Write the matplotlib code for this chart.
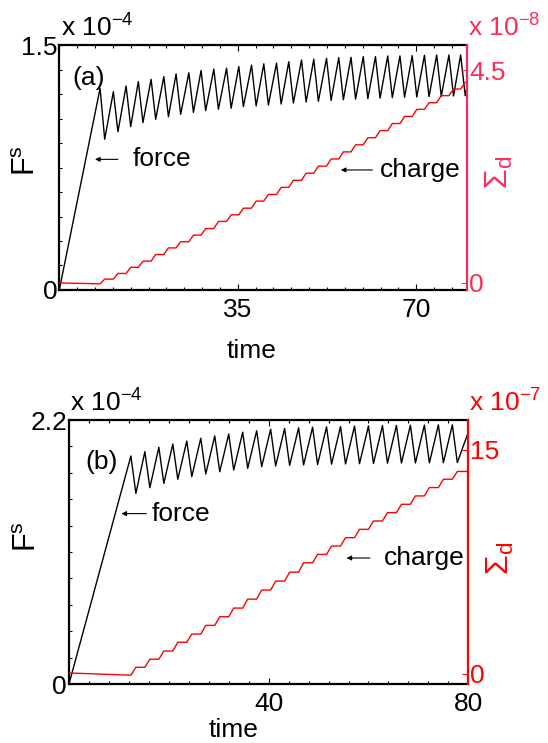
import numpy as np
import matplotlib.pyplot as plt
from matplotlib.ticker import MultipleLocator

plt.rcParams['font.family'] = ['Liberation Sans', 'DejaVu Sans']
plt.rcParams['mathtext.fontset'] = 'custom'
plt.rcParams['mathtext.rm'] = 'Liberation Sans'
plt.rcParams['mathtext.it'] = 'Liberation Sans:italic'
plt.rcParams['mathtext.sf'] = 'Liberation Sans'

# ---- panel (a): force in 1e-4, charge in 1e-8 ----
a_peak_t = [8.0, 10.6, 13.1, 15.5, 18.0, 20.5, 22.9, 25.4, 27.8, 30.3,
            32.8, 35.2, 37.7, 40.1, 42.6, 45.0, 47.5, 49.9, 52.4, 54.8,
            57.2, 59.6, 62.0, 64.4, 66.8, 69.2, 71.6, 74.0, 76.4, 78.7]
a_peak_f = [1.235, 1.214, 1.249, 1.276, 1.290, 1.306, 1.323, 1.330, 1.344, 1.352,
            1.358, 1.368, 1.377, 1.385, 1.389, 1.398, 1.408, 1.413, 1.419, 1.423,
            1.425, 1.429, 1.429, 1.433, 1.433, 1.435, 1.437, 1.439, 1.439, 1.439]
a_trough_t = [8.9, 11.5, 14.0, 16.4, 18.9, 21.4, 23.8, 26.3, 28.7, 31.2,
              33.7, 36.1, 38.6, 41.0, 43.5, 45.9, 48.4, 50.8, 53.3, 55.7,
              58.1, 60.5, 62.9, 65.3, 67.7, 70.1, 72.5, 74.9, 77.3, 79.6]
a_trough_f = [0.923, 0.969, 1.000, 1.025, 1.045, 1.061, 1.076, 1.088, 1.098, 1.107,
              1.113, 1.123, 1.127, 1.133, 1.139, 1.145, 1.151, 1.156, 1.161, 1.165,
              1.169, 1.172, 1.175, 1.178, 1.180, 1.182, 1.184, 1.186, 1.188, 1.190]
a_force_end = (80.0, 1.25)
a_charge_start = [0.0, -0.02]
a_charge_lvl = [0.08, 0.20, 0.33, 0.46, 0.60, 0.74, 0.87, 1.01, 1.15, 1.30,
                1.44, 1.58, 1.73, 1.87, 2.02, 2.17, 2.32, 2.47, 2.62, 2.77,
                2.92, 3.07, 3.22, 3.37, 3.52, 3.67, 3.81, 3.96, 4.10, 4.24]

# ---- panel (b): force in 1e-4, charge in 1e-7 ----
b_peak_t = [12.4, 15.2, 18.0, 20.8, 23.6, 26.4, 29.2, 32.0, 34.8, 37.6,
            40.4, 43.2, 46.0, 48.8, 51.6, 54.4, 57.2, 60.0, 62.8, 65.6,
            68.4, 71.2, 74.0, 76.8]
b_peak_f = [1.900, 1.936, 1.973, 2.000, 2.025, 2.048, 2.067, 2.083, 2.098, 2.111,
            2.123, 2.130, 2.135, 2.140, 2.143, 2.146, 2.149, 2.151, 2.153, 2.155,
            2.157, 2.158, 2.160, 2.160]
b_trough_t = [13.4, 16.2, 19.0, 21.8, 24.6, 27.4, 30.2, 33.0, 35.8, 38.6,
              41.4, 44.2, 47.0, 49.8, 52.6, 55.4, 58.2, 61.0, 63.8, 66.6,
              69.4, 72.2, 75.0, 77.8]
b_trough_f = [1.589, 1.636, 1.672, 1.706, 1.728, 1.750, 1.769, 1.783, 1.798, 1.811,
              1.817, 1.822, 1.826, 1.829, 1.832, 1.834, 1.836, 1.838, 1.840, 1.841,
              1.842, 1.843, 1.844, 1.845]
b_force_end = (80.0, 2.10)
b_charge_start = [0.04, -0.11]
b_charge_lvl = [0.42, 0.96, 1.51, 2.10, 2.65, 3.23, 3.81, 4.39, 4.99, 5.60,
                6.20, 6.80, 7.43, 7.99, 8.55, 9.11, 9.67, 10.23, 10.79, 11.35,
                11.91, 12.47, 13.03, 13.55]


def force_path(pt, pf, tt, tf, end):
    t = [0.0]
    f = [0.0]
    for a, b, c, d in zip(pt, pf, tt, tf):
        t += [a, c]
        f += [b, d]
    t.append(end[0])
    f.append(end[1])
    return t, f


def charge_path(pt, tt, start, lvl):
    t = [0.0, pt[0]]
    q = list(start)
    prev = start[1]
    for a, c, l in zip(pt, tt, lvl):
        t += [a, c]
        q += [prev, l]
        prev = l
    t.append(80.0)
    q.append(lvl[-1])
    return t, q


def panel(fig, rect, force, charge, fmax, fminor, xmaj, xminor,
          qlim, qtick, qexp, rcol, spcol, tag, notes, labpos):
    ax = fig.add_axes(rect)
    ax.plot(*force, color='k', lw=1.0)
    ax.set_xlim(0, 80)
    ax.set_ylim(0, fmax)
    ax.set_xticks(xmaj)
    ax.set_xticklabels([str(v) for v in xmaj])
    ax.xaxis.set_minor_locator(MultipleLocator(xminor))
    ax.set_yticks([0, fmax])
    ax.set_yticklabels(['0', str(fmax)])
    ax.yaxis.set_minor_locator(MultipleLocator(fminor))
    ax.tick_params(which='both', direction='in', top=True, right=True,
                   labelsize=19, width=0.8)
    ax.tick_params(which='major', length=4.5)
    ax.tick_params(which='minor', length=2.5)
    ax.tick_params(axis='y', pad=1.5)
    ax.tick_params(axis='x', pad=6)
    for s in ax.spines.values():
        s.set_linewidth(1.6)
    ax.spines['right'].set_visible(False)

    ax2 = ax.twinx()
    ax2.plot(*charge, color='#ff0000', lw=1.0)
    ax2.set_xlim(0, 80)
    ax2.set_ylim(*qlim)
    ax2.set_yticks([0, qtick])
    ax2.set_yticklabels(['0', str(qtick)])
    ax2.tick_params(axis='y', direction='in', colors=rcol, labelsize=19,
                    length=4.5, width=0.8, pad=1.5)
    for s in ax2.spines.values():
        s.set_visible(False)
    ax2.spines['right'].set_visible(True)
    ax2.spines['right'].set_color(spcol)
    ax2.spines['right'].set_linewidth(1.6)

    ax.set_xlabel('time', fontsize=19)
    ax.xaxis.set_label_coords(*labpos[0])
    ax.set_ylabel(r'$\mathrm{F^s}$', fontsize=22)
    ax.yaxis.set_label_coords(*labpos[1])
    ax2.set_ylabel(r'$\mathrm{\Sigma_d}$', fontsize=23, color=rcol, rotation=90)
    ax2.yaxis.set_label_coords(*labpos[2])

    ax.text(0.003, 1.012, r'x 10$^{\mathrm{-4}}$', transform=ax.transAxes,
            fontsize=19, ha='left', va='bottom')
    ax.text(1.002, 1.012, r'x 10$^{\mathrm{' + qexp + '}}$', transform=ax.transAxes,
            fontsize=19, ha='left', va='bottom', color=rcol)

    ax.text(tag[1], tag[2], tag[0], fontsize=19, ha='center', va='center')
    for word, head, tail, tx, y in notes:
        ax.annotate('', xy=(head, y), xytext=(tail, y),
                    arrowprops=dict(arrowstyle='-|>', lw=0.8, color='k',
                                    mutation_scale=7, shrinkA=0, shrinkB=0))
        ax.text(tx, y, word, fontsize=19, ha='left', va='center')
    return ax, ax2


def main():
    fig = plt.figure(figsize=(5.48, 7.43), dpi=100)

    fa = force_path(a_peak_t, a_peak_f, a_trough_t, a_trough_f, a_force_end)
    qa = charge_path(a_peak_t, a_trough_t, a_charge_start, a_charge_lvl)
    panel(fig, [0.1082, 0.6097, 0.7445, 0.3297], fa, qa, 1.5, 0.15, [35, 70], 3.5,
          (-0.15, 5.03), 4.5, '-8', '#ff2d55', '#e63060',
          ('(a)', 5.7, 1.30),
          [('force', 7.0, 11.5, 14.3, 0.80), ('charge', 55.2, 61.4, 62.8, 0.735)],
          [(0.472, -0.20), (-0.042, 0.53), (1.04, 0.478)])

    fb = force_path(b_peak_t, b_peak_f, b_trough_t, b_trough_f, b_force_end)
    qb = charge_path(b_peak_t, b_trough_t, b_charge_start, b_charge_lvl)
    panel(fig, [0.1259, 0.0794, 0.7287, 0.3553], fb, qb, 2.2, 0.22, [40, 80], 4,
          (-0.7, 17.0), 15, '-7', '#ff0000', '#ff0000',
          ('(b)', 6.6, 1.85),
          [('force', 10.5, 15.5, 16.6, 1.42), ('charge', 55.6, 60.3, 63.0, 1.05)],
          [(0.413, -0.13), (-0.066, 0.557), (1.042, 0.477)])

    fig.savefig('out.png', dpi=100)


if __name__ == "__main__":
    main()
